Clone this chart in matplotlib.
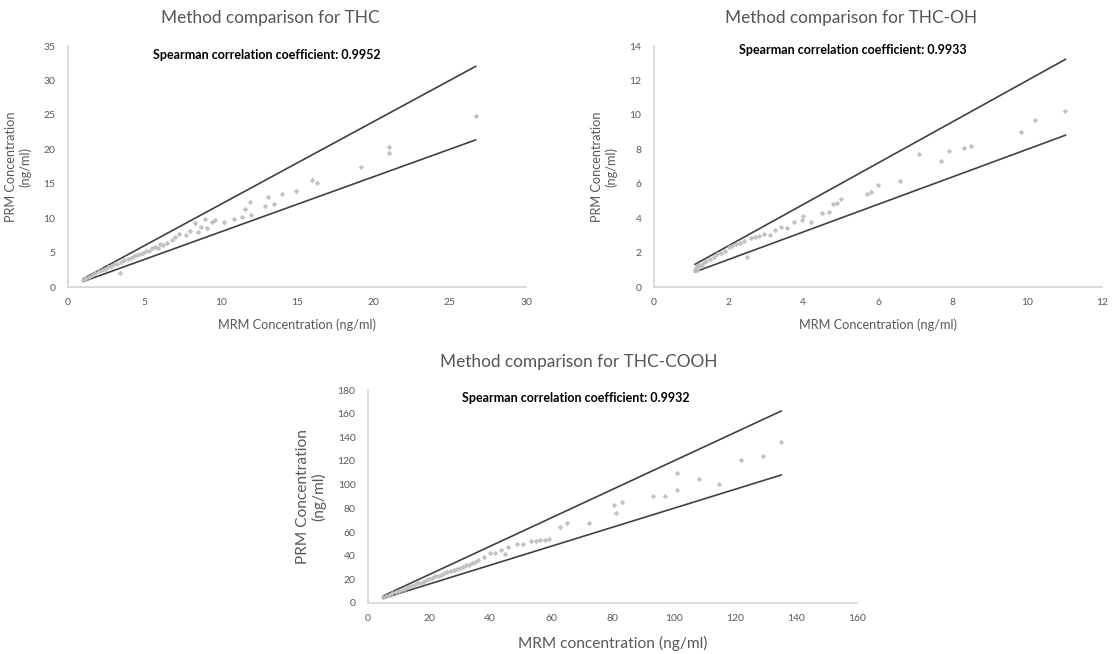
import matplotlib
matplotlib.use("Agg")
import matplotlib.pyplot as plt
import numpy as np

plt.rcParams['font.family'] = ['Lato', 'DejaVu Sans']

# ---------------- data ----------------
thc_mrm = [1.0, 1.1, 1.2, 1.4, 1.6, 1.8, 2.0, 2.2, 2.4, 2.6, 2.8, 3.0, 3.2, 3.4, 3.5, 3.7,
           3.9, 4.1, 4.3, 4.5, 4.7, 4.9, 5.1, 5.3, 5.5, 5.7, 5.9, 6.0, 6.2, 6.5, 6.8, 7.0,
           7.3, 7.7, 8.0, 8.3, 8.5, 8.7, 9.0, 9.1, 9.4, 9.6, 10.2, 10.9, 11.4, 11.6, 11.95,
           12.0, 12.9, 13.1, 13.5, 14.0, 14.95, 16.0, 16.3, 19.2, 21.0, 21.0, 26.7]
thc_prm = [1.0, 1.2, 1.3, 1.5, 1.8, 2.0, 2.3, 2.5, 2.6, 2.9, 3.1, 3.3, 3.4, 2.0, 3.7, 3.9,
           4.1, 4.2, 4.5, 4.6, 4.8, 4.9, 5.2, 5.3, 5.6, 5.8, 5.7, 6.2, 6.1, 6.4, 6.8, 7.3,
           7.7, 7.5, 8.2, 9.3, 8.0, 8.7, 9.9, 8.5, 9.4, 9.7, 9.5, 9.9, 10.2, 11.4, 12.4,
           10.5, 11.7, 13.0, 12.1, 13.55, 14.0, 15.6, 15.1, 17.4, 20.3, 19.4, 24.9]

oh_mrm = [1.1, 1.12, 1.15, 1.15, 1.2, 1.25, 1.3, 1.4, 1.5, 1.6, 1.7, 1.8, 1.9, 2.0, 2.1,
          2.2, 2.3, 2.4, 2.5, 2.6, 2.7, 2.8, 2.95, 3.1, 3.25, 3.4, 3.55, 3.75, 3.97, 4.0,
          4.2, 4.5, 4.7, 4.8, 4.9, 5.0, 5.7, 5.8, 6.0, 6.6, 7.1, 7.7, 7.9, 8.3, 8.5, 9.83,
          10.2, 11.02]
oh_prm = [1.0, 1.1, 1.2, 0.97, 1.3, 1.2, 1.4, 1.5, 1.6, 1.75, 1.9, 2.0, 2.1, 2.3, 2.4,
          2.5, 2.55, 2.7, 1.75, 2.85, 2.9, 2.95, 3.1, 3.0, 3.3, 3.5, 3.4, 3.75, 3.9, 4.1,
          3.8, 4.3, 4.35, 4.85, 4.9, 5.1, 5.4, 5.5, 5.9, 6.15, 7.7, 7.3, 7.9, 8.1, 8.2, 9.0,
          9.7, 10.2]

cooh_mrm = [5, 6, 7, 8, 9, 10, 11, 12, 13, 14, 15, 16, 17, 18, 19, 20, 21, 22, 23, 24, 25,
            26, 27, 28, 29, 30, 31, 32, 33, 34, 35, 36, 38, 40, 41.6, 43.4, 44.7, 45.9,
            48.9, 50.7, 53.2, 55, 56.2, 58, 59.2, 62.9, 65.0, 72.2, 80.5, 81.1, 83.1, 93.2,
            97.1, 101.1, 101.1, 108.4, 115.0, 122.1, 129.2, 135.2]
cooh_prm = [5, 6, 7, 8.5, 9, 10.5, 11, 12, 13.5, 14, 15, 16.5, 17, 18, 19.5, 20, 21, 22.5,
            23, 24, 25, 26.5, 27, 27.5, 29, 30, 30.5, 32, 32.5, 34, 35, 36.3, 39, 42, 42.4,
            44.7, 41.3, 47.4, 49.7, 50.2, 52.5, 52.2, 53.6, 53, 54.4, 64.2, 67.8, 67.8,
            83.2, 75.9, 85.1, 90.1, 90.1, 110.2, 95.7, 105.2, 100.5, 120.8, 124.2, 135.9]

upper_factor = 1.2
lower_factor = 0.8

titles = ["Method comparison for THC", "Method comparison for THC-OH",
          "Method comparison for THC-COOH"]
spearman = ["Spearman correlation coefficient: 0.9952",
            "Spearman correlation coefficient: 0.9933",
            "Spearman correlation coefficient: 0.9932"]
xlabels = ["MRM Concentration (ng/ml)", "MRM Concentration (ng/ml)",
           "MRM concentration (ng/ml)"]
ylabel = "PRM Concentration\n(ng/ml)"

x_limits = [(0, 30), (0, 12), (0, 160)]
y_limits = [(0, 35), (0, 14), (0, 180)]
x_steps = [5, 2, 20]
y_steps = [5, 2, 20]

# ---------------- figure ----------------
W, H = 1112, 654
fig = plt.figure(figsize=(W / 100, H / 100), dpi=100)

def frac(left, right, top, bottom):
    return [left / W, 1 - bottom / H, (right - left) / W, (bottom - top) / H]

rects = [frac(68, 526, 46, 287), frac(654, 1102, 46, 287), frac(368, 857, 390, 603)]
title_pos = [(270, 18), (851, 18), (579, 362)]
spear_pos = [(267, 55), (853, 50), (576, 398)]
label_sizes = [9.2, 9.2, 11.2]
label_pads = [(8, 9), (8, 9), (9, 8)]

datasets = [(thc_mrm, thc_prm), (oh_mrm, oh_prm), (cooh_mrm, cooh_prm)]

grey_text = '#595959'
for i, (xs, ys) in enumerate(datasets):
    ax = fig.add_axes(rects[i])
    xs = np.asarray(xs)
    ys = np.asarray(ys)
    xr = np.array([xs.min(), xs.max()])
    ax.plot(xr, upper_factor * xr, color='#404040', lw=1.2, zorder=2)
    ax.plot(xr, lower_factor * xr, color='#404040', lw=1.2, zorder=2)
    ax.scatter(xs, ys, marker='D', s=8, color='#bdbdbd', alpha=0.9,
               linewidths=0, zorder=3)
    ax.set_xlim(*x_limits[i])
    ax.set_ylim(*y_limits[i])
    ax.set_xticks(np.arange(x_limits[i][0], x_limits[i][1] + 0.001, x_steps[i]))
    ax.set_yticks(np.arange(y_limits[i][0], y_limits[i][1] + 0.001, y_steps[i]))
    for s in ['top', 'right']:
        ax.spines[s].set_visible(False)
    for s in ['left', 'bottom']:
        ax.spines[s].set_color('#d9d9d9')
        ax.spines[s].set_linewidth(1.3)
    ax.tick_params(axis='x', length=0, labelsize=7.5, labelcolor=grey_text, pad=8)
    ax.tick_params(axis='y', length=0, labelsize=7.5, labelcolor=grey_text, pad=9)
    ax.set_xlabel(xlabels[i], fontsize=label_sizes[i], color=grey_text,
                  labelpad=label_pads[i][0])
    ax.set_ylabel(ylabel, fontsize=label_sizes[i], color=grey_text,
                  labelpad=label_pads[i][1], linespacing=1.1)
    ax.patch.set_alpha(0)
    tx, ty = title_pos[i]
    fig.text(tx / W, 1 - ty / H, titles[i], ha='center', va='center',
             fontsize=12.4, color='#555555')
    sx, sy = spear_pos[i]
    fig.text(sx / W, 1 - sy / H, spearman[i], ha='center', va='center',
             fontsize=9, fontweight='bold', color='black')

fig.savefig("out.png", dpi=100)
